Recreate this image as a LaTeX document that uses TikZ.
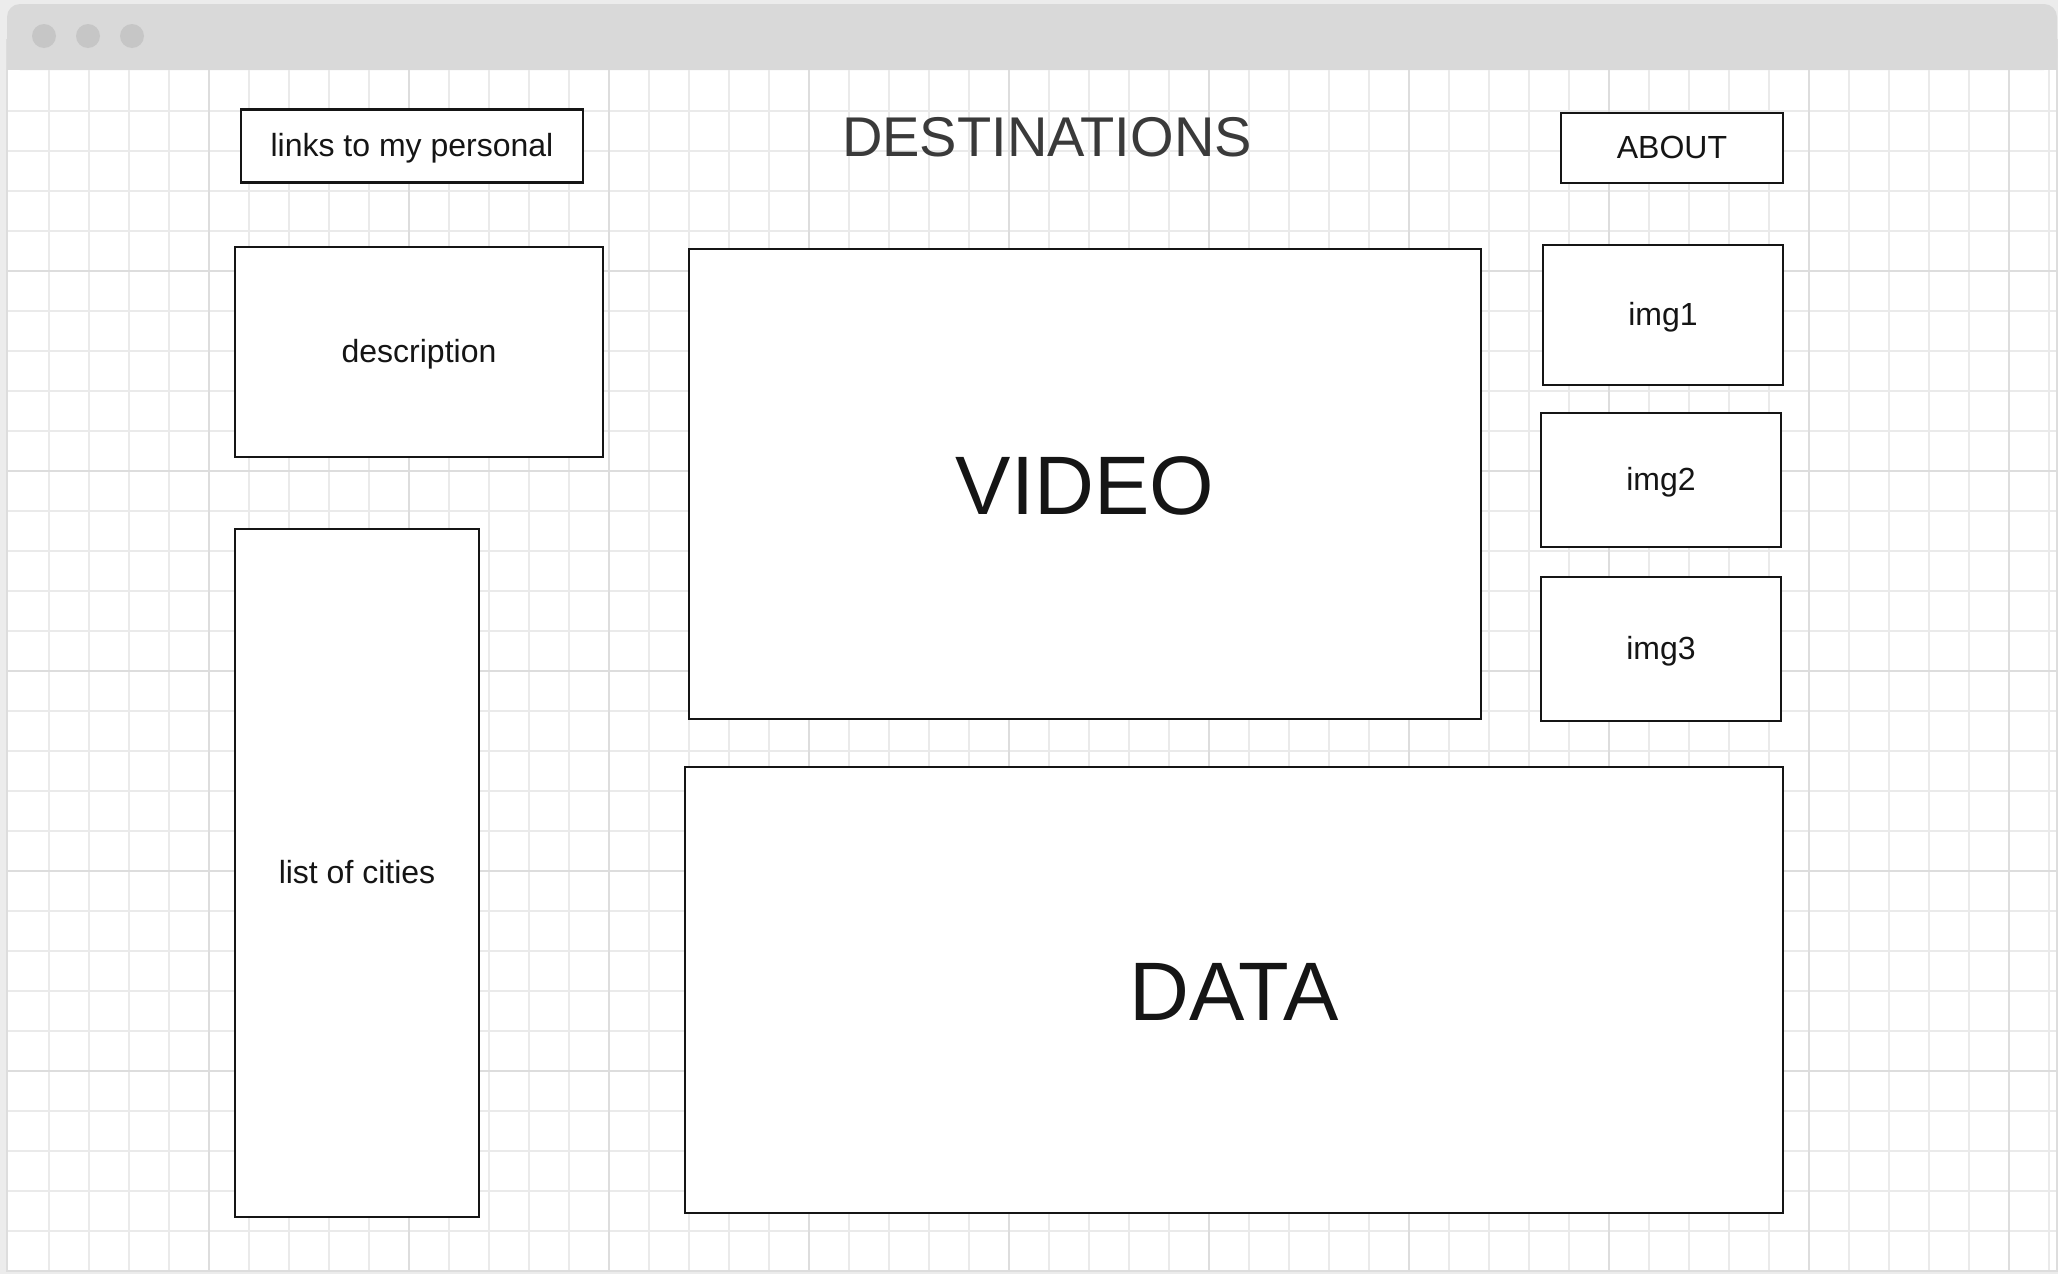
\documentclass[tikz,border=0pt]{standalone}
\usepackage{fontspec}
\setmainfont{Liberation Sans}
\usepackage{tikz}
\usepackage{xcolor}
\definecolor{outerbg}{HTML}{ECECEC}
\definecolor{barbg}{HTML}{D9D9D9}
\definecolor{dotgray}{HTML}{C6C6C6}
\definecolor{minorgrid}{HTML}{EAEAEA}
\definecolor{majorgrid}{HTML}{DDDDDD}
\definecolor{boxline}{HTML}{151515}
\definecolor{titlegray}{HTML}{3A3A3A}
\newcommand{\smalltxt}{\fontsize{32pt}{38pt}\selectfont}
\newcommand{\bigtxt}{\fontsize{83pt}{96pt}\selectfont}
\newcommand{\titletxt}{\fontsize{56pt}{64pt}\selectfont}

\begin{document}
\begin{tikzpicture}[x=1pt,y=-1pt,
		minorline/.style={draw=minorgrid,line width=1.3pt},
		majorline/.style={draw=majorgrid,line width=1.3pt},
		wirebox/.style={draw=boxline,fill=white,line width=2.3pt,inner sep=0pt,
			text=boxline,font=\smalltxt,text height=27pt,text depth=6pt},
		bigbox/.style={wirebox,font=\bigtxt,text height=60pt,text depth=0pt}]
		\useasboundingbox (0,0) rectangle (2058,1274);
		\fill[outerbg] (0,0) rectangle (2058,1274);
		\filldraw[fill=white,draw=majorgrid,line width=1.5pt] (7,40) rectangle (2057,1271);
		\fill[barbg,rounded corners=13pt] (7,4) rectangle (2057,70);
		\fill[barbg] (7,40) rectangle (2057,70);
		\fill[dotgray] (44,36) circle (12);
		\fill[dotgray] (88,36) circle (12);
		\fill[dotgray] (132,36) circle (12);
		\foreach \x in {49,89,...,2049}
			\draw[minorline] (\x,70) -- (\x,1270);
		\foreach \y in {111,151,...,1231}
			\draw[minorline] (8,\y) -- (2056,\y);
		\foreach \x in {209,409,...,2009}
			\draw[majorline] (\x,70) -- (\x,1270);
		\foreach \y in {271,471,...,1071}
			\draw[majorline] (8,\y) -- (2056,\y);
		\node[wirebox,minimum width=342pt,minimum height=73pt] (links) at (412,146)
			{links to my personal};
		\node[text=titlegray,font=\titletxt] (title) at (1047,137) {DESTINATIONS};
		\node[wirebox,minimum width=222pt,minimum height=70pt] (about) at (1672,148)
			{ABOUT};
		\node[wirebox,minimum width=368pt,minimum height=210pt] (desc) at (419,352)
			{description};
		\node[wirebox,minimum width=244pt,minimum height=688pt] (cities) at (357,873)
			{list of cities};
		\node[bigbox,minimum width=792pt,minimum height=470pt] (video) at (1085,484)
			{VIDEO};
		\node[wirebox,minimum width=240pt,minimum height=140pt] (img1) at (1663,315)
			{img1};
		\node[wirebox,minimum width=240pt,minimum height=134pt] (img2) at (1661,480)
			{img2};
		\node[wirebox,minimum width=240pt,minimum height=144pt] (img3) at (1661,649)
			{img3};
		\node[bigbox,minimum width=1098pt,minimum height=446pt] (data) at (1234,990)
			{DATA};
	\end{tikzpicture}
\end{document}
